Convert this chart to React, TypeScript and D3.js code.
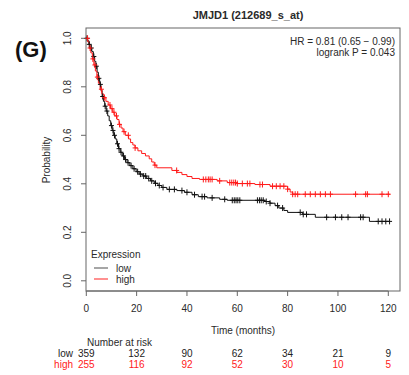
import React from "react";
import * as d3 from "d3";

const title = "JMJD1 (212689_s_at)";
const panelLabel = "(G)";
const statLines = ["HR = 0.81 (0.65 − 0.99)", "logrank P = 0.043"];
const xTicks = [0, 20, 40, 60, 80, 100, 120];
const yTicks = [0, 0.2, 0.4, 0.6, 0.8, 1.0];
const groups = ["low", "high"];
const riskLow = [359, 132, 90, 62, 34, 21, 9];
const riskHigh = [255, 116, 92, 52, 30, 10, 5];

// step points [time, survival]
const lowSteps: [number, number][] = [
  [0, 1.0], [0.5, 0.99], [1, 0.975], [1.5, 0.96], [2.2, 0.945], [2.8, 0.925], [3.3, 0.905],
  [3.8, 0.885], [4.3, 0.86], [4.8, 0.835], [5.3, 0.81], [5.8, 0.785], [6.3, 0.76], [6.8, 0.74],
  [7.3, 0.72], [7.9, 0.7], [8.5, 0.68], [9.1, 0.66], [9.7, 0.64], [10.3, 0.62], [10.9, 0.6],
  [11.5, 0.585], [12.1, 0.565], [12.8, 0.545], [13.5, 0.53], [14.3, 0.515], [15.2, 0.5],
  [16.2, 0.487], [17.3, 0.475], [18.5, 0.462], [19.8, 0.45], [21, 0.44], [22.5, 0.432],
  [24, 0.422], [25.5, 0.412], [27, 0.402], [28.5, 0.393], [30, 0.385], [32, 0.377], [36, 0.372],
  [39, 0.365], [42, 0.355], [44.5, 0.347], [48, 0.342], [53, 0.336], [56, 0.332], [71, 0.327],
  [73, 0.32], [75, 0.31], [76.5, 0.3], [78.5, 0.29], [80, 0.282], [86, 0.274], [91, 0.262],
  [112.5, 0.245],
];
const highSteps: [number, number][] = [
  [0, 1.0], [0.6, 0.985], [1.2, 0.96], [1.8, 0.94], [2.4, 0.915], [3.0, 0.89], [3.6, 0.865],
  [4.2, 0.84], [4.8, 0.815], [5.5, 0.79], [6.2, 0.77], [7.0, 0.755], [7.8, 0.74], [8.7, 0.725],
  [9.6, 0.71], [10.5, 0.695], [11.3, 0.68], [12.2, 0.665], [13.0, 0.645], [13.8, 0.63],
  [14.6, 0.615], [15.5, 0.6], [16.8, 0.585], [17.6, 0.57], [18.5, 0.56], [19.4, 0.548],
  [20.5, 0.536], [22, 0.525], [23.5, 0.515], [25, 0.503], [26, 0.49], [27, 0.477], [28, 0.466],
  [34, 0.455], [36, 0.447], [38, 0.438], [40, 0.43], [42, 0.422], [45, 0.418], [52, 0.412],
  [56, 0.405], [60, 0.401], [67, 0.397], [73, 0.39], [80, 0.378], [81, 0.366], [82, 0.357],
];
const lowEnd = 120.6;
const highEnd = 120.6;

const lowCensor = [
  0.3, 1.2, 2, 3, 4, 5, 5.6, 6.5, 7.5, 8.2, 10, 10.6, 11.2, 12.4, 13, 13.8, 14.8, 15.6, 16.6, 17.8,
  19, 20.4, 21.5, 22.8, 23.6, 24.8, 26, 27.5, 29, 30.5, 33, 35, 38, 40, 43, 46, 47, 50, 55, 58, 58.8,
  59.5, 60.2, 61, 68, 68.8, 69.5, 70.3, 71.5, 73, 76, 78, 85, 86.2, 87.5, 95.5, 99, 101.5, 104, 109,
  110, 116, 117.5, 119, 120.5,
];
const highCensor = [
  0.5, 1.5, 2.6, 3.4, 4.4, 6, 7.2, 9.4, 10.2, 11, 12, 13.2, 15, 16.7, 19.4, 27.3, 35.9, 46.5, 47.5,
  48.5, 49.2, 50, 53, 57, 57.8, 58.6, 59.3, 60, 62, 64, 65, 69, 70, 74, 75.5, 77, 78.5, 80, 82, 83,
  84, 87, 89, 91, 93, 95, 97, 107, 111, 111.7, 117.5, 120,
];

const W = 409;
const H = 375;
const font = "'Liberation Sans', Arial, sans-serif";
const textColor = "#2a2a2a";
const lowColor = "#111111";
const highColor = "#ff1a1a";

const x = d3.scaleLinear().domain([0, 120]).range([86.3, 388.3]);
const y = d3.scaleLinear().domain([0, 1]).range([280.8, 38.3]);
const box = { x0: 86, x1: 400, y0: 28, y1: 291 };

function survAt(steps: [number, number][], t: number) {
  let v = steps[0][1];
  for (const [st, sv] of steps) {
    if (st <= t) v = sv;
    else break;
  }
  return v;
}

function stepPath(steps: [number, number][], end: number) {
  const pts: [number, number][] = steps.map((d) => [d[0], d[1]]);
  pts.push([end, steps[steps.length - 1][1]]);
  const line = d3
    .line<[number, number]>()
    .x((d) => x(d[0]))
    .y((d) => y(d[1]))
    .curve(d3.curveStepAfter);
  return line(pts) || "";
}

function Censors({ steps, times, color }: { steps: [number, number][]; times: number[]; color: string }) {
  return (
    <g stroke={color} strokeWidth={1}>
      {times.map((t, i) => {
        const cx = x(t);
        const cy = y(survAt(steps, t));
        return (
          <g key={i}>
            <line x1={cx - 2.5} x2={cx + 2.5} y1={cy} y2={cy} />
            <line x1={cx} x2={cx} y1={cy - 3} y2={cy + 3} />
          </g>
        );
      })}
    </g>
  );
}

export default function App() {
  const riskRows = [
    { label: groups[0], vals: riskLow, color: "#222" },
    { label: groups[1], vals: riskHigh, color: "#ff1a1a" },
  ];
  return (
    <svg
      width={W}
      height={H}
      style={{ position: "absolute", left: 0, top: 0, background: "#fff" }}
      fontFamily={font}
    >
      <rect width={W} height={H} fill="#fff" />
      <text x={248} y={19} textAnchor="middle" fontSize={11} fontWeight="bold" fill={textColor}>
        {title}
      </text>
      <text x={15} y={57} fontSize={22} fontWeight="bold" fill="#111">
        {panelLabel}
      </text>
      <rect
        x={box.x0}
        y={box.y0}
        width={box.x1 - box.x0}
        height={box.y1 - box.y0}
        fill="none"
        stroke="#666"
        strokeWidth={1}
      />
      {/* y axis */}
      {yTicks.map((v) => (
        <g key={v}>
          <line x1={81} x2={box.x0} y1={y(v)} y2={y(v)} stroke="#666" />
          <text
            transform={`translate(${71},${y(v)}) rotate(-90)`}
            textAnchor="middle"
            fontSize={10}
            fill={textColor}
          >
            {v.toFixed(1)}
          </text>
        </g>
      ))}
      <text
        transform={`translate(${50},${160}) rotate(-90)`}
        textAnchor="middle"
        fontSize={10}
        fill={textColor}
      >
        Probability
      </text>
      {/* x axis */}
      <line x1={x(0)} x2={x(120)} y1={box.y1} y2={box.y1} stroke="#666" />
      {xTicks.map((v) => (
        <g key={v}>
          <line x1={x(v)} x2={x(v)} y1={box.y1} y2={box.y1 + 5} stroke="#666" />
          <text x={x(v)} y={312} textAnchor="middle" fontSize={10} fill={textColor}>
            {v}
          </text>
        </g>
      ))}
      <text x={243} y={334} textAnchor="middle" fontSize={10} fill={textColor}>
        Time (months)
      </text>
      {/* curves */}
      <path d={stepPath(lowSteps, lowEnd)} fill="none" stroke={lowColor} strokeWidth={1} />
      <path d={stepPath(highSteps, highEnd)} fill="none" stroke={highColor} strokeWidth={1} />
      <Censors steps={lowSteps} times={lowCensor} color={lowColor} />
      <Censors steps={highSteps} times={highCensor} color={highColor} />
      {/* stats */}
      {statLines.map((s, i) => (
        <text key={i} x={395} y={45 + i * 11} textAnchor="end" fontSize={10} fill={textColor}>
          {s}
        </text>
      ))}
      {/* legend */}
      <text x={91} y={258} fontSize={10} fill={textColor}>
        Expression
      </text>
      {groups.map((g, i) => (
        <g key={g}>
          <line
            x1={94}
            x2={108}
            y1={268 + i * 11}
            y2={268 + i * 11}
            stroke={i === 0 ? "#888" : "#ff6b6b"}
            strokeWidth={1.5}
          />
          <text x={116} y={271.5 + i * 11} fontSize={10} fill={textColor}>
            {g}
          </text>
        </g>
      ))}
      {/* number at risk */}
      <text x={87} y={346} fontSize={10} fill={textColor}>
        Number at risk
      </text>
      {riskRows.map((r, ri) => (
        <g key={r.label} fill={r.color}>
          <text x={73} y={357 + ri * 11} textAnchor="end" fontSize={10}>
            {r.label}
          </text>
          {r.vals.map((v, i) => (
            <text key={i} x={x(xTicks[i])} y={357 + ri * 11} textAnchor="middle" fontSize={10}>
              {v}
            </text>
          ))}
        </g>
      ))}
    </svg>
  );
}
